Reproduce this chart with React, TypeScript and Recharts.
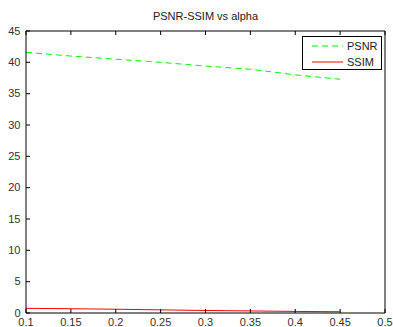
import React from 'react';
import { LineChart, Line, XAxis, YAxis, Legend } from 'recharts';

const alphas = [0.1, 0.15, 0.2, 0.25, 0.3, 0.35, 0.4, 0.45];
const psnr = [41.6, 41.0, 40.5, 40.0, 39.4, 38.9, 38.0, 37.3];
const ssim = [0.75, 0.68, 0.6, 0.5, 0.4, 0.33, 0.25, 0.2];
const xTicks = [0.1, 0.15, 0.2, 0.25, 0.3, 0.35, 0.4, 0.45, 0.5];
const yTicks = [0, 5, 10, 15, 20, 25, 30, 35, 40, 45];

const FONT = '"Liberation Sans", Arial, sans-serif';
const TICK_COLOR = '#333';

const data = alphas.map((a, i) => ({ alpha: a, psnr: psnr[i], ssim: ssim[i] }));

const BottomTick = (props: any) => {
  const { x, y, payload } = props;
  return (
    <g>
      <line x1={x} x2={x} y1={y} y2={y - 4} stroke="#000" />
      <text x={x} y={y + 12.5} textAnchor="middle" fontSize={11} fill={TICK_COLOR} fontFamily={FONT}>
        {payload.value}
      </text>
    </g>
  );
};

const TopTick = (props: any) => {
  const { x, y } = props;
  return <line x1={x} x2={x} y1={y} y2={y + 4} stroke="#000" />;
};

const LeftTick = (props: any) => {
  const { x, y, payload } = props;
  return (
    <g>
      <line x1={x} x2={x + 4} y1={y} y2={y} stroke="#000" />
      <text x={x - 5.5} y={y + 3.5} textAnchor="end" fontSize={11} fill={TICK_COLOR} fontFamily={FONT}>
        {payload.value}
      </text>
    </g>
  );
};

const RightTick = (props: any) => {
  const { x, y } = props;
  return <line x1={x} x2={x - 4} y1={y} y2={y} stroke="#000" />;
};

const LegendBox = () => (
  <div
    style={{
      width: 80,
      height: 34,
      border: '1px solid #000',
      background: '#fff',
      boxSizing: 'border-box',
    }}
  >
    <svg width={78} height={32} style={{ display: 'block' }}>
      <line x1={9} x2={40} y1={9} y2={9} stroke="#00ff00" strokeDasharray="6 4" />
      <text x={44} y={13} fontSize={11} fill="#222" fontFamily={FONT}>PSNR</text>
      <line x1={9} x2={40} y1={25} y2={25} stroke="#ff0000" />
      <text x={44} y={29} fontSize={11} fill="#222" fontFamily={FONT}>SSIM</text>
    </svg>
  </div>
);

export default function App() {
  return (
    <div style={{ position: 'absolute', left: 0, top: 0, width: 393, height: 327, background: '#fff' }}>
      <div
        style={{
          position: 'absolute',
          left: 26,
          width: 359,
          top: 10,
          textAlign: 'center',
          fontFamily: FONT,
          fontSize: 11,
          color: '#222',
        }}
      >
        PSNR-SSIM vs alpha
      </div>
      <LineChart width={393} height={327} data={data} margin={{ top: 30, right: 7, bottom: 0, left: 0 }}>
        <XAxis
          dataKey="alpha"
          type="number"
          domain={[0.1, 0.5]}
          ticks={xTicks}
          height={14}
          tickSize={0}
          tickMargin={0}
          tickLine={false}
          stroke="#000"
          tick={<BottomTick />}
          interval={0}
        />
        <XAxis
          xAxisId="top"
          orientation="top"
          dataKey="alpha"
          type="number"
          domain={[0.1, 0.5]}
          ticks={xTicks}
          height={1}
          tickSize={0}
          tickMargin={0}
          tickLine={false}
          stroke="#000"
          tick={<TopTick />}
          interval={0}
        />
        <YAxis
          type="number"
          domain={[0, 45]}
          ticks={yTicks}
          width={26}
          tickSize={0}
          tickMargin={0}
          tickLine={false}
          stroke="#000"
          tick={<LeftTick />}
          interval={0}
        />
        <YAxis
          yAxisId="right"
          orientation="right"
          type="number"
          domain={[0, 45]}
          ticks={yTicks}
          width={1}
          tickSize={0}
          tickMargin={0}
          tickLine={false}
          stroke="#000"
          tick={<RightTick />}
          interval={0}
        />
        <Legend
          layout="horizontal"
          verticalAlign="middle"
          align="center"
          content={<LegendBox />}
          wrapperStyle={{ position: 'absolute', left: 302, top: 36, width: 80, height: 34 }}
        />
        <Line
          dataKey="psnr"
          name="PSNR"
          stroke="#00ff00"
          strokeDasharray="6 4"
          strokeWidth={1}
          dot={false}
          isAnimationActive={false}
        />
        <Line
          dataKey="ssim"
          name="SSIM"
          stroke="#ff0000"
          strokeWidth={1}
          dot={false}
          isAnimationActive={false}
        />
      </LineChart>
    </div>
  );
}
